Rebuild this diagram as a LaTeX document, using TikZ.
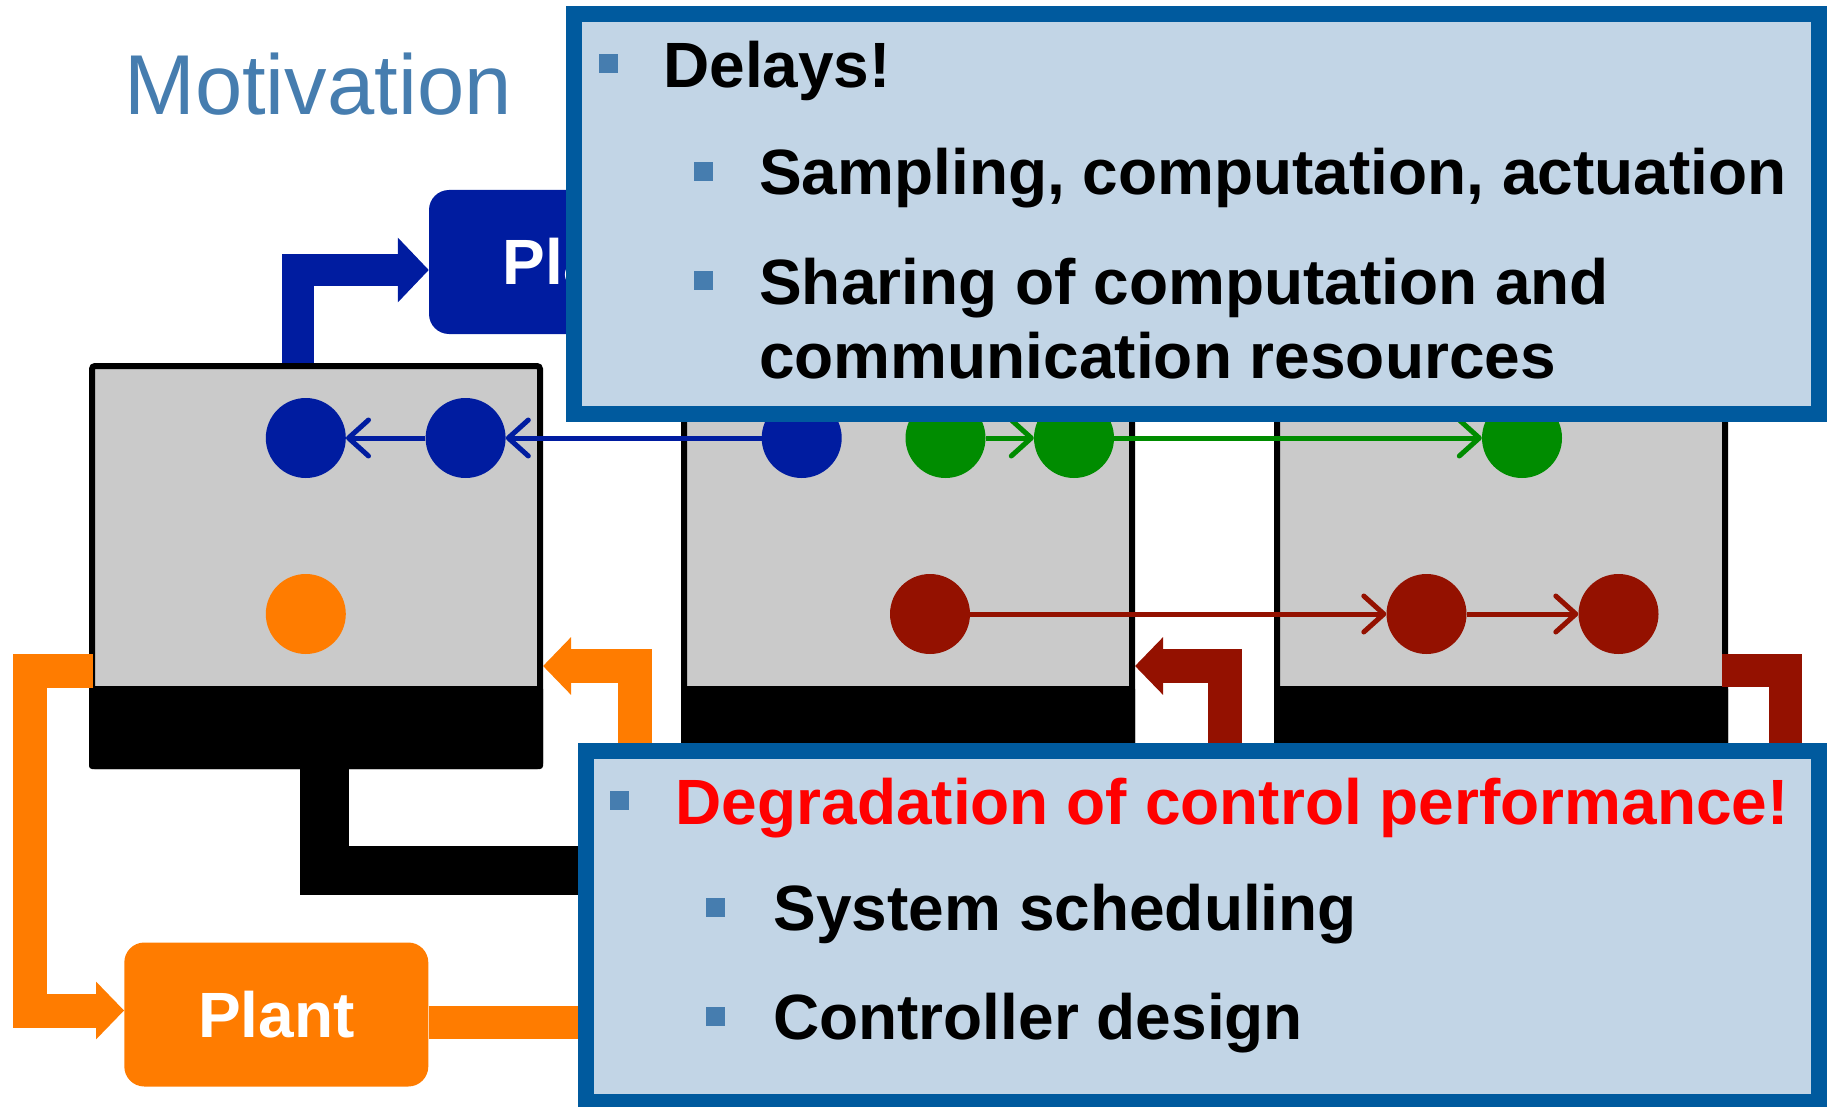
\documentclass[tikz,border=0pt]{standalone}
\usepackage{fontspec}
\setmainfont{Liberation Sans}
\usetikzlibrary{arrows.meta}

\definecolor{titleblue}{RGB}{70,125,175}
\definecolor{ctrlblue}{RGB}{0,28,160}
\definecolor{plantorange}{RGB}{255,124,0}
\definecolor{darkred}{RGB}{148,17,0}
\definecolor{taskgreen}{RGB}{0,140,0}
\definecolor{compgrey}{RGB}{202,202,202}
\definecolor{frameblue}{RGB}{0,90,158}
\definecolor{panelblue}{RGB}{194,213,230}
\definecolor{bulletblue}{RGB}{70,125,175}

\begin{document}
\begin{tikzpicture}[x=1pt,y=-1pt,
  comp/.style={draw=black, line width=6pt, fill=compgrey, rounded corners=3pt,
    minimum width=448pt, minimum height=400pt, inner sep=0pt},
  task/.style={circle, inner sep=0pt, minimum size=80pt, draw=none},
  plantbox/.style={rounded corners=20pt, minimum width=304pt, minimum height=144pt,
    inner sep=0pt, text=white, font=\fontsize{64}{64}\selectfont\bfseries},
  msg/.style={line width=5pt, -{Straight Barb[length=20pt,width=36pt,round]}},
  bigline/.style={line join=miter, line cap=butt},
  bluearrow/.style={bigline, draw=ctrlblue, line width=32pt, -{Triangle[length=31pt,width=63pt]}},
  orangearrow/.style={bigline, draw=plantorange, line width=34pt, -{Triangle[length=28pt,width=56pt]}},
  redarrow/.style={bigline, draw=darkred, line width=34pt, -{Triangle[length=28pt,width=56pt]}},
  panel/.style={draw=frameblue, fill=panelblue, line width=16pt, inner sep=0pt},
  bulletsq/.style={fill=bulletblue, minimum size=19pt, inner sep=0pt},
  itemtext/.style={anchor=base west, inner sep=0pt, font=\fontsize{64}{64}\selectfont\bfseries},
]
\useasboundingbox (0,0) rectangle (1827,1107);
\clip (0,0) rectangle (1827,1107);

% title
\node[anchor=base west, inner sep=0pt, text=titleblue, font=\fontsize{85}{85}\selectfont] (title) at (124,115) {Motivation};

% the three computing units
\node[comp] (c1) at (316,566) {};
\node[comp] (c2) at (908,566) {};
\node[comp] (c3) at (1501,566) {};
\foreach \c in {c1,c2,c3}
  \fill[black, rounded corners=3pt] (\c.south west) rectangle ([yshift=83pt]\c.south east);

% plants
\node[plantbox, fill=ctrlblue] (pb) at (581,262) {Plant};
\node[plantbox, fill=plantorange] (pl) at (276.3,1014.5) {Plant};

% free ends of the links that run under the panels
\coordinate (busend) at (720,870.5);
\coordinate (plantout) at (720,1022.5);
\coordinate (o1start) at (635,800);
\coordinate (r1start) at (1224.6,800);
\coordinate (r2end) at (1785,800);

% network link from unit 1
\draw[bigline, line width=49pt] (324.5,769) -- (324.5,870.5) -- (busend);

% sensing and actuation links
\draw[bluearrow] (297.5,363) -- (297.5,270) -- (pb.west |- 0,270);
\draw[orangearrow] (93,670.5) -- (29.5,670.5) -- (29.5,1010.5) -- (pl.west |- 0,1010.5);
\draw[bigline, draw=plantorange, line width=33pt] (pl.east |- plantout) -- (plantout);
\draw[orangearrow] (o1start) -- (635,666) -- (c1.east |- 0,666);
\draw[redarrow] (r1start) -- (1224.6,666) -- (c2.east |- 0,666);
\draw[bigline, draw=darkred, line width=33pt] (1722,670.5) -- (1785,670.5) -- (r2end);

% tasks
\node[task, fill=ctrlblue] (b1) at (305.8,438) {};
\node[task, fill=ctrlblue] (b2) at (465.6,438) {};
\node[task, fill=plantorange] (o1) at (305.8,614) {};
\node[task, fill=ctrlblue] (b3) at (801.7,438) {};
\node[task, fill=taskgreen] (g1) at (945.5,438) {};
\node[task, fill=taskgreen] (g2) at (1074,438) {};
\node[task, fill=taskgreen] (g3) at (1522,438) {};
\node[task, fill=darkred] (r1) at (930,614) {};
\node[task, fill=darkred] (r2) at (1426.5,614) {};
\node[task, fill=darkred] (r3) at (1618.5,614) {};

% messages between tasks
\draw[msg, ctrlblue] (b3) -- (b2);
\draw[msg, ctrlblue] (b2) -- (b1);
\draw[msg, taskgreen] (g1) -- (g2);
\draw[msg, taskgreen] (g2) -- (g3);
\draw[msg, darkred] (r1) -- (r2);
\draw[msg, darkred] (r2) -- (r3);

% upper panel
\node[panel, minimum width=1245pt, minimum height=400pt] (tp) at (1196.5,214) {};
\node[bulletsq] (tq1) at (608.5,63.5) {};
\node[itemtext] (tt1) at (663,87.3) {Delays!};
\node[bulletsq] (tq2) at (703.5,171.5) {};
\node[itemtext] (tt2) at (759,195) {Sampling, computation, actuation};
\node[bulletsq] (tq3) at (703.5,280.5) {};
\node[itemtext] (tt3) at (759,304) {Sharing of computation and};
\node[itemtext] (tt4) at (759,378.3) {communication resources};

% lower panel
\node[panel, minimum width=1233pt, minimum height=351pt] (bp) at (1202.5,926.5) {};
\node[bulletsq] (bq1) at (619.3,800) {};
\node[itemtext, text=red] (bt1) at (675.5,824.3) {Degradation of control performance!};
\node[bulletsq] (bq2) at (715.5,907.5) {};
\node[itemtext] (bt2) at (773.5,930) {System scheduling};
\node[bulletsq] (bq3) at (715.5,1016.5) {};
\node[itemtext] (bt3) at (773,1039.3) {Controller design};
\end{tikzpicture}
\end{document}
